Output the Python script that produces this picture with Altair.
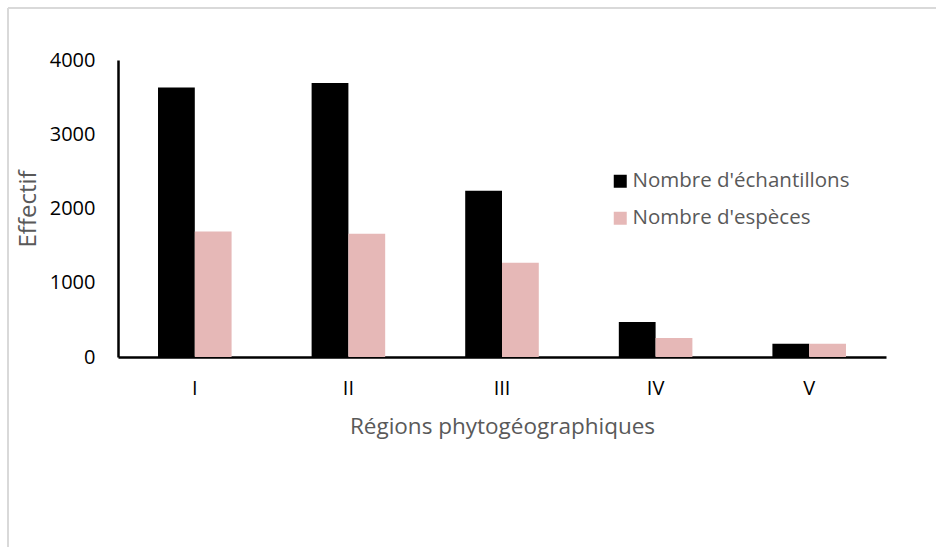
import altair as alt
import pandas as pd

# Sample counts and species counts per phytogeographic region
regions = ["I", "II", "III", "IV", "V"]
series = ["Nombre d'échantillons", "Nombre d'espèces"]
echantillons = [3630, 3690, 2240, 470, 180]
especes = [1690, 1660, 1270, 255, 178]
colors = ["#000000", "#E6B8B7"]

rows = []
for r, e, s in zip(regions, echantillons, especes):
    rows.append({"region": r, "serie": series[0], "value": e})
    rows.append({"region": r, "serie": series[1], "value": s})
df = pd.DataFrame(rows)

FONT = "Open Sans"
GREY = "#595959"

bars = alt.Chart(df).mark_bar().encode(
    x=alt.X(
        "region:N",
        sort=regions,
        scale=alt.Scale(paddingInner=0.521, paddingOuter=0.2605),
        axis=alt.Axis(
            title="Régions phytogéographiques",
            labelAngle=0,
            ticks=False,
            domainColor="#000000",
            domainWidth=2.5,
            labelFontSize=20,
            labelColor="#000000",
            labelPadding=21,
            titleFontSize=22.5,
            titleColor=GREY,
            titleFontWeight="normal",
            titlePadding=17,
        ),
    ),
    xOffset=alt.XOffset(
        "serie:N", sort=series, scale=alt.Scale(paddingInner=0, paddingOuter=0)
    ),
    y=alt.Y(
        "value:Q",
        scale=alt.Scale(domain=[0, 4000], nice=False),
        axis=alt.Axis(
            title="Effectif",
            values=[0, 1000, 2000, 3000, 4000],
            format="d",
            grid=False,
            ticks=False,
            domainColor="#000000",
            domainWidth=2.5,
            labelFontSize=20,
            labelColor="#000000",
            labelPadding=23,
            titleFontSize=24,
            titleColor=GREY,
            titleFontWeight="normal",
            titlePadding=9,
        ),
    ),
    color=alt.Color(
        "serie:N",
        sort=series,
        scale=alt.Scale(domain=series, range=colors),
        legend=alt.Legend(
            title=None,
            orient="none",
            legendX=492,
            legendY=111,
            symbolType="square",
            symbolSize=169,
            symbolStrokeWidth=0,
            labelFontSize=20.5,
            labelColor=GREY,
            labelOffset=2,
            labelLimit=0,
            rowPadding=16,
            padding=0,
        ),
    ),
)

# Light frame of the chart area (left and top edges)
frame_df = pd.DataFrame({"k": [0]})
frame_left = alt.Chart(frame_df).mark_rule(color="#d9d9d9", strokeWidth=2).encode(
    x=alt.value(-110), y=alt.value(-52), y2=alt.value(500)
)
frame_top = alt.Chart(frame_df).mark_rule(color="#d9d9d9", strokeWidth=2).encode(
    x=alt.value(-110), x2=alt.value(830), y=alt.value(-52)
)

chart = (
    alt.layer(bars, frame_left, frame_top)
    .properties(
        width=768,
        height=297,
        autosize=alt.AutoSizeParams(type="none"),
        padding={"left": 118, "top": 60, "right": 50, "bottom": 190},
        background="#ffffff",
    )
    .configure(font=FONT)
    .configure_view(stroke=None)
)

chart.save("out.html", embed_options={"renderer": "svg", "actions": False})
